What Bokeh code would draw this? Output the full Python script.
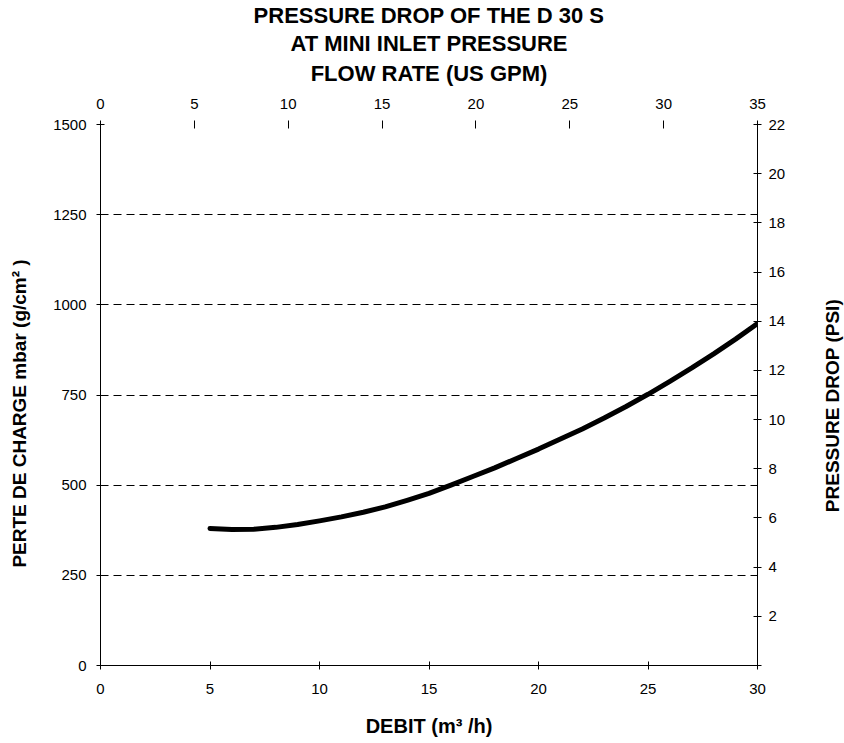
import math
from bokeh.plotting import figure
from bokeh.layouts import row
from bokeh.models import Range1d, LinearAxis, FixedTicker, Title, Label
from bokeh.embed import file_html
from bokeh.resources import INLINE

# Data: flow rate (m3/h) vs pressure drop (mbar)
flow_m3h = [5, 6, 7, 8, 9, 10, 11, 12, 13, 14, 15, 16, 17, 18, 19, 20,
            21, 22, 23, 24, 25, 26, 27, 28, 29, 30]
drop_mbar = [380, 377, 378, 383, 391, 401, 412, 425, 440, 458, 477, 500, 524,
             548, 574, 600, 628, 656, 686, 718, 752, 788, 825, 864, 905, 948]

x_ticks = [0, 5, 10, 15, 20, 25, 30]
y_ticks = [0, 250, 500, 750, 1000, 1250, 1500]
gpm_ticks = [0, 5, 10, 15, 20, 25, 30, 35]
psi_ticks = [0, 2, 4, 6, 8, 10, 12, 14, 16, 18, 20, 22]

FONT = "Liberation Sans"
NB = "\u00a0"

p = figure(width=822, height=743, x_range=Range1d(0, 30), y_range=Range1d(0, 1500),
           output_backend="svg", toolbar_location=None, title=None,
           min_border_left=100, min_border_right=65, min_border_top=124, min_border_bottom=78)
p.outline_line_color = None
p.background_fill_color = "white"
p.border_fill_color = "white"

p.extra_x_ranges = {"gpm": Range1d(0, 35)}
p.extra_y_ranges = {"psi": Range1d(0, 22)}

def style_axis(ax):
    ax.axis_line_color = "black"
    ax.axis_line_width = 1
    ax.major_tick_line_color = "black"
    ax.major_tick_in = 4
    ax.major_tick_out = 4
    ax.minor_tick_line_color = None
    ax.major_label_text_font = FONT
    ax.major_label_text_font_size = "15px"
    ax.major_label_text_color = "black"
    ax.axis_label_text_font = FONT
    ax.axis_label_text_font_size = "19px"
    ax.axis_label_text_font_style = "bold"
    ax.axis_label_text_color = "black"

# bottom
xa = p.xaxis[0]
style_axis(xa)
xa.ticker = FixedTicker(ticks=x_ticks)
xa.axis_label = "DEBIT (m³ /h)"
xa.axis_label_text_font_size = "20px"
xa.major_label_standoff = 14
xa.axis_label_standoff = 18

# left
ya = p.yaxis[0]
style_axis(ya)
ya.ticker = FixedTicker(ticks=y_ticks)
ya.axis_label = "PERTE DE CHARGE mbar (g/cm² )" + NB * 7
ya.major_label_standoff = 10
ya.axis_label_standoff = 20

# right (PSI ticks)
ra = LinearAxis(y_range_name="psi", ticker=FixedTicker(ticks=psi_ticks))
style_axis(ra)
ra.major_label_overrides = {0: ""}
ra.major_label_standoff = 7
p.add_layout(ra, "right")

# top
ta = LinearAxis(x_range_name="gpm", ticker=FixedTicker(ticks=gpm_ticks),
                axis_label="FLOW RATE (US GPM)")
style_axis(ta)
ta.axis_line_color = None
ta.axis_label_text_font_size = "22px"
ta.major_label_standoff = 12
ta.axis_label_standoff = 10
p.add_layout(ta, "above")

for txt, so in [("AT MINI INLET PRESSURE", 3), ("PRESSURE DROP OF THE D 30 S", 0)]:
    t = Title(text=txt, align="center", text_font=FONT, text_font_size="22px",
              text_font_style="bold", text_color="black", standoff=so)
    p.add_layout(t, "above")

p.xgrid.visible = False
p.ygrid.ticker = FixedTicker(ticks=y_ticks)
p.ygrid.grid_line_color = "black"
p.ygrid.grid_line_dash = "8 5"
p.ygrid.grid_line_width = 1

p.line(flow_m3h, drop_mbar, line_width=5, line_color="black",
       line_cap="round", line_join="round")

# narrow strip on the right carrying the right-hand axis title (bottom-to-top)
p2 = figure(width=22, height=743, x_range=Range1d(0, 22), y_range=Range1d(0, 743),
            output_backend="svg", toolbar_location=None, title=None,
            x_axis_type=None, y_axis_type=None, min_border=0)
p2.outline_line_color = None
p2.grid.visible = False
p2.background_fill_color = "white"
p2.border_fill_color = "white"
p2.add_layout(Label(x=10, y=357, text="PRESSURE DROP (PSI)", angle=math.pi / 2,
                    text_align="center", text_baseline="middle",
                    text_font=FONT, text_font_size="19px", text_font_style="bold",
                    text_color="black"))

layout = row(p, p2, spacing=0)
open("out.html", "w").write(file_html(layout, INLINE))
